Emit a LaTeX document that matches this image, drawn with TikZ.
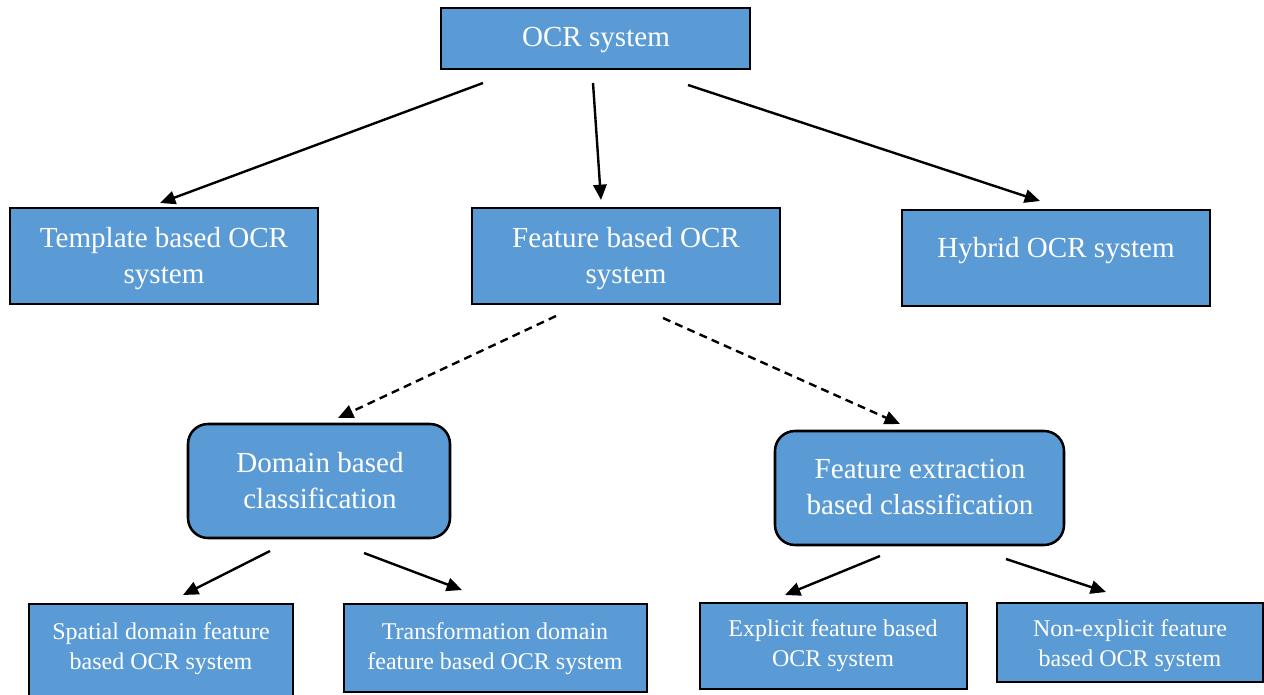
\documentclass[tikz,border=0pt]{standalone}
\usepackage{fontspec}
\setmainfont{Liberation Serif}
\usetikzlibrary{arrows.meta,fit}
\definecolor{boxblue}{RGB}{91,155,213}
\begin{document}
\begin{tikzpicture}[x=0.75pt,y=-0.75pt,
  box/.style={draw=black, line width=1.9pt, fill=boxblue, inner sep=0pt},
  roundbox/.style={box, rounded corners=15pt},
  bigtxt/.style={text=white, font=\fontsize{21.8}{27}\selectfont, align=center, inner sep=0pt},
  smalltxt/.style={text=white, font=\fontsize{18}{22.5}\selectfont, align=center, inner sep=0pt},
  link/.style={line width=1.8pt, -{Triangle[length=11.5pt,width=10pt]}},
  dlink/.style={link, dash pattern=on 6pt off 4pt}]
\useasboundingbox (0,0) rectangle (1264,695);

% boxes
\node[box, fit={(441,8) (750,69)}] (ocr) {};
\node[box, fit={(10,208) (318,304)}] (tmpl) {};
\node[box, fit={(472,208) (780,304)}] (feat) {};
\node[box, fit={(902,210) (1210,306)}] (hyb) {};
\node[roundbox, fit={(188,424) (450,538)}] (dom) {};
\node[roundbox, fit={(775,431) (1064,545)}] (fext) {};
\node[box, fit={(29,604) (293,725)}] (spat) {};
\node[box, fit={(344,604) (647,692)}] (trans) {};
\node[box, fit={(700,603) (967,689)}] (expl) {};
\node[box, fit={(997,603) (1263,682)}] (nexpl) {};

% labels
\node[bigtxt] (ocr-t) at (596,40) {OCR system};
\node[bigtxt] (tmpl-t) at (164,259) {Template based OCR\\system};
\node[bigtxt] (feat-t) at (626,259) {Feature based OCR\\system};
\node[bigtxt] (hyb-t) at (1056,251) {Hybrid OCR system};
\node[bigtxt] (dom-t) at (320,481) {Domain based\\classification};
\node[bigtxt] (fext-t) at (920,487) {Feature extraction\\based classification};
\node[smalltxt] (spat-t) at (161,649) {Spatial domain feature\\based OCR system};
\node[smalltxt] (trans-t) at (495,649) {Transformation domain\\feature based OCR system};
\node[smalltxt] (expl-t) at (833,646) {Explicit feature based\\OCR system};
\node[smalltxt] (nexpl-t) at (1130,646) {Non-explicit feature\\based OCR system};

% connector end points
\coordinate (ocr-a) at (483,83);   \coordinate (tmpl-a) at (160,203);
\coordinate (ocr-b) at (593,83);   \coordinate (feat-a) at (601,200);
\coordinate (ocr-c) at (688,85);   \coordinate (hyb-a) at (1040,201);
\coordinate (feat-b) at (556,316); \coordinate (dom-a) at (338,418);
\coordinate (feat-c) at (663,318); \coordinate (fext-a) at (900,424);
\coordinate (dom-b) at (270,551);  \coordinate (spat-a) at (183,595);
\coordinate (dom-c) at (364,553);  \coordinate (trans-a) at (462,590);
\coordinate (fext-b) at (880,556); \coordinate (expl-a) at (785,595);
\coordinate (fext-c) at (1006,559);\coordinate (nexpl-a) at (1106,592);

% connectors
\draw[link] (ocr-a) -- (tmpl-a);
\draw[link] (ocr-b) -- (feat-a);
\draw[link] (ocr-c) -- (hyb-a);
\draw[dlink] (feat-b) -- (dom-a);
\draw[dlink] (feat-c) -- (fext-a);
\draw[link] (dom-b) -- (spat-a);
\draw[link] (dom-c) -- (trans-a);
\draw[link] (fext-b) -- (expl-a);
\draw[link] (fext-c) -- (nexpl-a);
\end{tikzpicture}
\end{document}
